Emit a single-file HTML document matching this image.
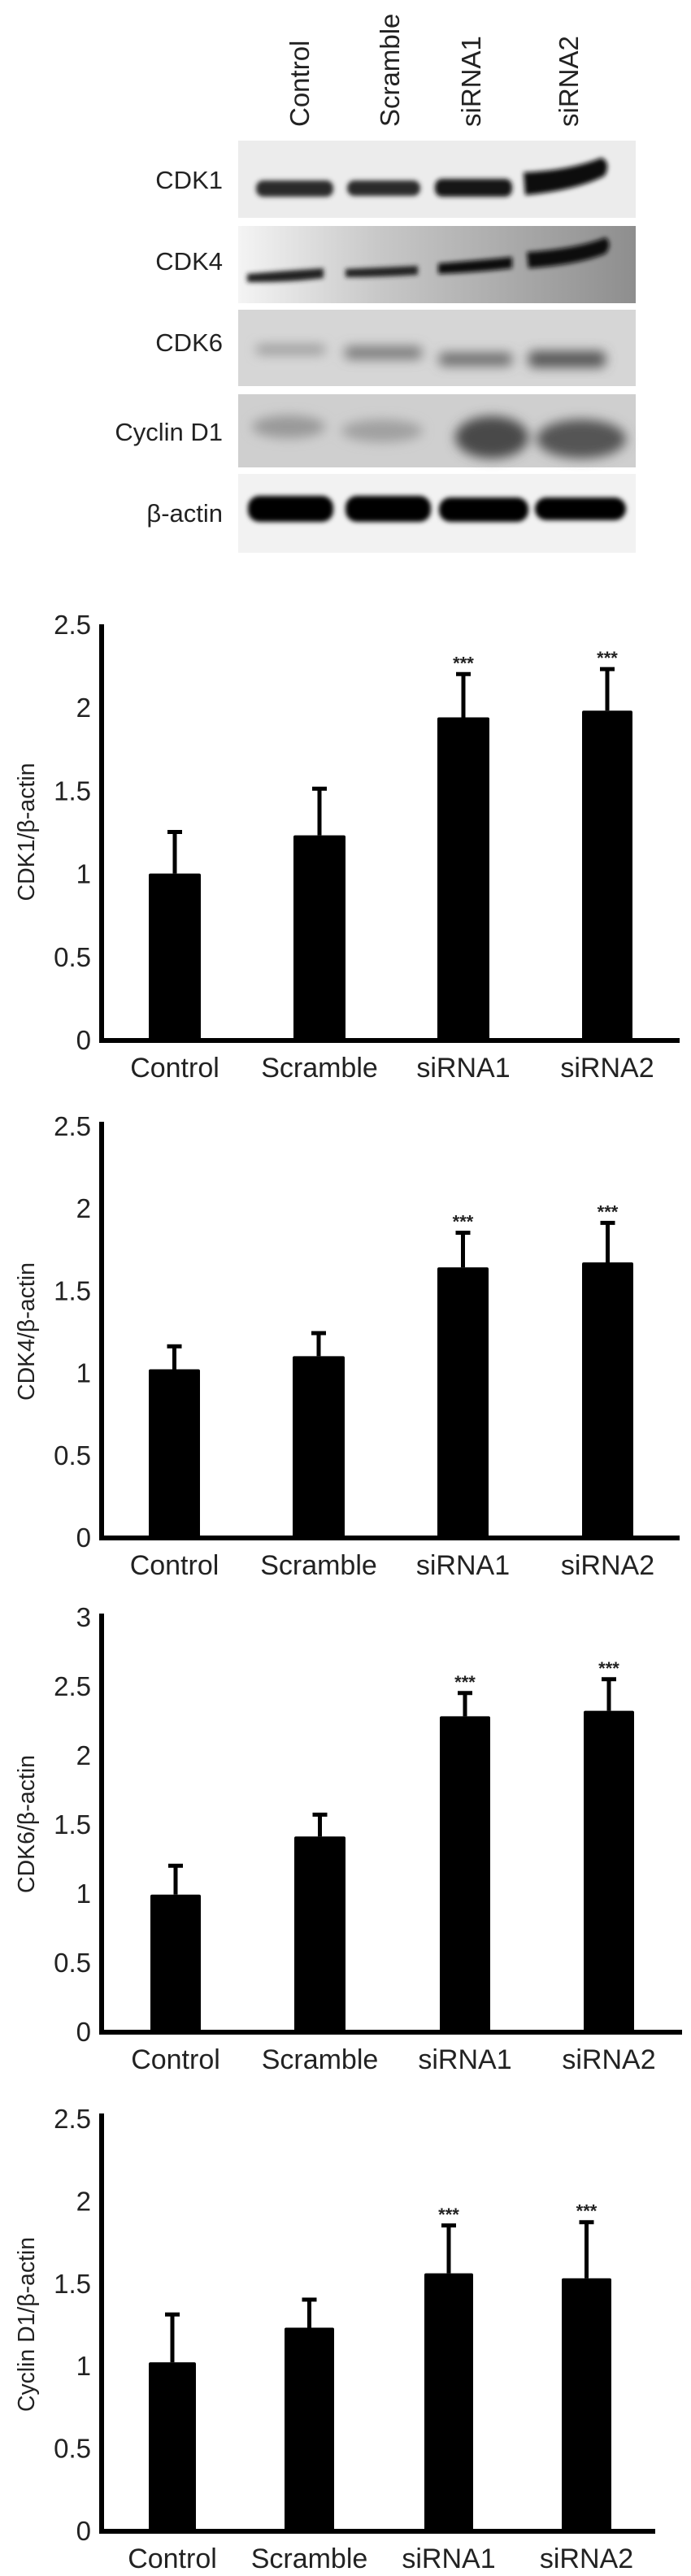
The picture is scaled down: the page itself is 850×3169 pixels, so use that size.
<!DOCTYPE html>
<html><head><meta charset="utf-8"><style>
html,body{margin:0;padding:0;background:#fff}
svg{display:block}
text{font-family:"Liberation Sans",Arial,sans-serif;fill:#222}
</style></head><body>
<svg id="fig" width="850" height="3169" viewBox="0 0 850 3169" xmlns="http://www.w3.org/2000/svg">
<defs>
<filter id="bl" x="-20%" y="-50%" width="140%" height="200%"><feGaussianBlur stdDeviation="3"/></filter>
<filter id="bl2" x="-20%" y="-50%" width="140%" height="200%"><feGaussianBlur stdDeviation="7"/></filter>
<linearGradient id="g4" x1="0" x2="1" y1="0" y2="0"><stop offset="0" stop-color="#f4f4f4"/><stop offset="0.35" stop-color="#c8c8c8"/><stop offset="1" stop-color="#8e8e8e"/></linearGradient>
</defs>
<g>
  <g font-size="33">
    <text transform="translate(380,156) rotate(-90)">Control</text>
    <text transform="translate(491,156) rotate(-90)">Scramble</text>
    <text transform="translate(591,156) rotate(-90)">siRNA1</text>
    <text transform="translate(711,156) rotate(-90)">siRNA2</text>
  </g>
  <g font-size="31" text-anchor="end">
    <text x="274" y="232">CDK1</text>
    <text x="274" y="332">CDK4</text>
    <text x="274" y="432">CDK6</text>
    <text x="274" y="542">Cyclin D1</text>
    <text x="274" y="642">β-actin</text>
  </g>
  <g>
    <rect x="293" y="173" width="489" height="95" fill="#ececec"/>
    <g filter="url(#bl)" fill="#1c1c1c">
      <rect x="315" y="222" width="95" height="20" rx="9" fill="#2a2a2a"/>
      <rect x="427" y="222" width="90" height="19" rx="9" fill="#2a2a2a"/>
      <rect x="535" y="220" width="95" height="22" rx="9" fill="#151515"/>
      <path d="M644 212 Q700 210 740 194 Q752 200 744 216 Q710 234 646 240 Z" fill="#0a0a0a"/>
    </g>
  </g>
  <g>
    <rect x="293" y="278" width="489" height="95" fill="url(#g4)"/>
    <g filter="url(#bl)">
      <path d="M304 337 Q350 333 398 330 L398 342 Q350 348 304 347 Z" fill="#222"/>
      <path d="M425 331 Q470 329 514 327 L514 338 Q470 341 425 341 Z" fill="#222"/>
      <path d="M539 324 Q590 320 630 316 L630 330 Q590 335 539 337 Z" fill="#111"/>
      <path d="M648 310 Q710 306 745 292 Q754 300 745 312 Q710 326 650 330 Z" fill="#0a0a0a"/>
    </g>
  </g>
  <g>
    <rect x="293" y="381" width="489" height="94" fill="#d6d6d6"/>
    <g filter="url(#bl2)">
      <rect x="315" y="424" width="85" height="12" rx="5" fill="#9a9a9a"/>
      <rect x="424" y="426" width="95" height="16" rx="6" fill="#7a7a7a"/>
      <rect x="540" y="434" width="90" height="16" rx="6" fill="#6a6a6a"/>
      <rect x="650" y="432" width="95" height="20" rx="7" fill="#555"/>
    </g>
  </g>
  <g>
    <rect x="293" y="485" width="489" height="90" fill="#cfcfcf"/>
    <g filter="url(#bl2)">
      <ellipse cx="355" cy="525" rx="45" ry="14" fill="#999"/>
      <ellipse cx="470" cy="530" rx="50" ry="14" fill="#a0a0a0"/>
      <ellipse cx="605" cy="538" rx="45" ry="26" fill="#4a4a4a"/>
      <ellipse cx="715" cy="540" rx="55" ry="24" fill="#555"/>
    </g>
  </g>
  <g>
    <rect x="293" y="583" width="489" height="97" fill="#f2f2f2"/>
    <g filter="url(#bl)" fill="#000">
      <rect x="305" y="610" width="105" height="32" rx="14"/>
      <rect x="425" y="610" width="105" height="32" rx="14"/>
      <rect x="540" y="612" width="110" height="30" rx="14"/>
      <rect x="658" y="612" width="112" height="28" rx="14"/>
    </g>
  </g>
</g>
<g id="charts"></g>
</svg>
<script>
const categories = ["Control","Scramble","siRNA1","siRNA2"];
const cdk1Values = [1.0, 1.23, 1.94, 1.98];
const cdk1Errors = [0.26, 0.29, 0.27, 0.26];
const cdk4Values = [1.02, 1.10, 1.64, 1.67];
const cdk4Errors = [0.15, 0.15, 0.22, 0.25];
const cdk6Values = [0.99, 1.41, 2.28, 2.32];
const cdk6Errors = [0.22, 0.17, 0.18, 0.24];
const cycValues = [1.02, 1.23, 1.56, 1.53];
const cycErrors = [0.30, 0.18, 0.30, 0.35];
const sigLabels = ["", "", "***", "***"];
const ticks25 = ["0","0.5","1","1.5","2","2.5"];
const ticks3 = ["0","0.5","1","1.5","2","2.5","3"];

const NS = "http://www.w3.org/2000/svg";
const root = document.getElementById("charts");
function mk(tag, attrs, parent){
  const e = document.createElementNS(NS, tag);
  for (const k in attrs) e.setAttribute(k, attrs[k]);
  parent.appendChild(e);
  return e;
}
const panels = [
  {name:"cdk1", title:"CDK1/β-actin", vals:cdk1Values, errs:cdk1Errors, ticks:ticks25, max:2.5, y0:1279, yTop:768, axTop:768, x0:125, x1:836, bars:[[183,247],[361,425],[538,602],[716,778]]},
  {name:"cdk4", title:"CDK4/β-actin", vals:cdk4Values, errs:cdk4Errors, ticks:ticks25, max:2.5, y0:1891, yTop:1385, axTop:1380, x0:125, x1:836, bars:[[183,246],[360,424],[538,601],[716,779]]},
  {name:"cdk6", title:"CDK6/β-actin", vals:cdk6Values, errs:cdk6Errors, ticks:ticks3, max:3, y0:2499, yTop:1989, axTop:1985, x0:125, x1:839, bars:[[185,247],[362,425],[541,603],[718,780]]},
  {name:"cyclin-d1", title:"Cyclin D1/β-actin", vals:cycValues, errs:cycErrors, ticks:ticks25, max:2.5, y0:3113, yTop:2606, axTop:2600, x0:125, x1:806, bars:[[183,241],[350,411],[522,582],[691,752]]}
];
panels.forEach(p=>{
  const g = mk("g", {}, root);
  
  
  const ys = v => p.y0 - (v / p.max) * (p.y0 - p.yTop);
  p.ticks.forEach(t=>{
    const tx = mk("text", {x:112, y:ys(parseFloat(t))+12, "font-size":33, "text-anchor":"end"}, g);
    
    
    tx.textContent = t;
  });
  const cy = (p.y0 + p.yTop)/2;
  const tt = mk("text", {transform:`translate(42,${cy}) rotate(-90)`, "font-size":29, "text-anchor":"middle", "textLength": p.name==="cyclin-d1"?215:170, "lengthAdjust":"spacingAndGlyphs"}, g);
  
  
  tt.textContent = p.title;
  p.vals.forEach((v,i)=>{
    const [a,b] = p.bars[i];
    const cx = (a+b)/2;
    const r = mk("rect", {x:a, y:ys(v), width:b-a, height:p.y0-ys(v), fill:"#000", rx:2}, g);
    
    
    const et = ys(v + p.errs[i]);
    const el = mk("line", {x1:cx, x2:cx, y1:ys(v), y2:et, stroke:"#000", "stroke-width":5}, g);
    
    
    const ec = mk("line", {x1:cx-9, x2:cx+9, y1:et+2, y2:et+2, stroke:"#000", "stroke-width":5}, g);
    
    
    if (sigLabels[i]) {
      const s = mk("text", {x:cx, y:et-4, "font-size":22, "text-anchor":"middle", "font-weight":"bold"}, g);
      
      
      s.textContent = sigLabels[i];
    }
    const xl = mk("text", {x:cx, y:p.y0+46, "font-size":34, "text-anchor":"middle"}, g);
    
    
    xl.textContent = categories[i];
  });
  const ya = mk("line", {x1:p.x0, x2:p.x0, y1:p.axTop, y2:p.y0+3, stroke:"#000", "stroke-width":6}, g);
  
  
  const xa = mk("line", {x1:p.x0-3, x2:p.x1, y1:p.y0+1, y2:p.y0+1, stroke:"#000", "stroke-width":6}, g);
  
  
});
</script>
</body></html>
